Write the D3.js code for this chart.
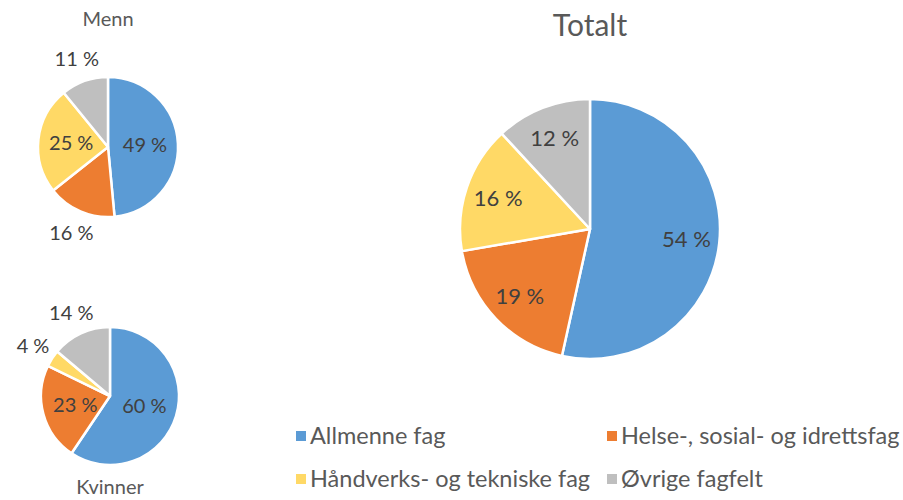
<!DOCTYPE html>
<html>
<head>
<meta charset="utf-8">
<script src="https://cdn.jsdelivr.net/npm/d3@7"></script>
<style>
  body { margin: 0; background: #fff; }
  svg { font-family: Lato, "Open Sans", sans-serif; }
</style>
</head>
<body>
<svg width="903" height="500"></svg>
<script>
// DATA
const categories = ["Allmenne fag", "Helse-, sosial- og idrettsfag", "Håndverks- og tekniske fag", "Øvrige fagfelt"];
const menn = [49, 16, 25, 11];
const kvinner = [60, 23, 4, 14];
const totalt = [54, 19, 16, 12];

const colors = ["#5B9BD5", "#ED7D31", "#FFD966", "#BFBFBF"];

const svg = d3.select("svg");
const color = d3.scaleOrdinal().domain(categories).range(colors);

const pie = d3.pie().sort(null).value(d => d.value);

// draws one pie with its title and labels
function drawPie(values, title, opt) {
  const data = categories.map((c, i) => ({ name: c, value: values[i] }));
  const arcs = pie(data);
  const arc = d3.arc().innerRadius(0).outerRadius(opt.r);

  const g = svg.append("g").attr("transform", `translate(${opt.cx}, ${opt.cy})`);

  g.selectAll("path")
    .data(arcs)
    .join("path")
    .attr("d", arc)
    .attr("fill", d => color(d.data.name))
    .attr("stroke", "#fff")
    .attr("stroke-width", 2.5)
    .attr("stroke-linejoin", "round");

  // label inside if the slice is wide enough, else outside
  const inner = opt.r - 33;
  g.selectAll("text.lbl")
    .data(arcs)
    .join("text")
    .attr("class", "lbl")
    .attr("transform", d => {
      const a = (d.startAngle + d.endAngle) / 2;
      const span = (d.endAngle - d.startAngle) * inner;
      const rr = span > 45 ? inner : opt.r * 1.33;
      return `translate(${Math.sin(a) * rr}, ${-Math.cos(a) * rr})`;
    })
    .attr("text-anchor", "middle")
    .attr("dy", "0.35em")
    .attr("font-size", opt.labelSize)
    .attr("fill", "#404040")
    .text(d => `${d.data.value} %`);

  svg.append("text")
    .attr("x", opt.cx)
    .attr("y", opt.titleY)
    .attr("text-anchor", "middle")
    .attr("font-size", opt.titleSize)
    .attr("fill", "#595959")
    .text(title);
}

drawPie(menn, "Menn", { cx: 108, cy: 147, r: 70, labelSize: 20, titleY: 26, titleSize: 20 });
drawPie(kvinner, "Kvinner", { cx: 110, cy: 396, r: 69, labelSize: 20, titleY: 494, titleSize: 20 });
drawPie(totalt, "Totalt", { cx: 590, cy: 229, r: 130, labelSize: 22, titleY: 36, titleSize: 30 });

// LEGEND
const legendX = d3.scalePoint().domain([0, 1]).range([296, 607]);
const legendY = d3.scalePoint().domain([0, 1]).range([436, 479]);

const items = svg.append("g")
  .selectAll("g")
  .data(categories)
  .join("g")
  .attr("transform", (d, i) => `translate(${legendX(i % 2)}, ${legendY(Math.floor(i / 2))})`);

items.append("rect")
  .attr("x", 0)
  .attr("y", -5)
  .attr("width", 10)
  .attr("height", 10)
  .attr("fill", d => color(d));

items.append("text")
  .attr("x", 14)
  .attr("dy", "0.35em")
  .attr("font-size", 23.5)
  .attr("fill", "#595959")
  .text(d => d);
</script>
</body>
</html>
